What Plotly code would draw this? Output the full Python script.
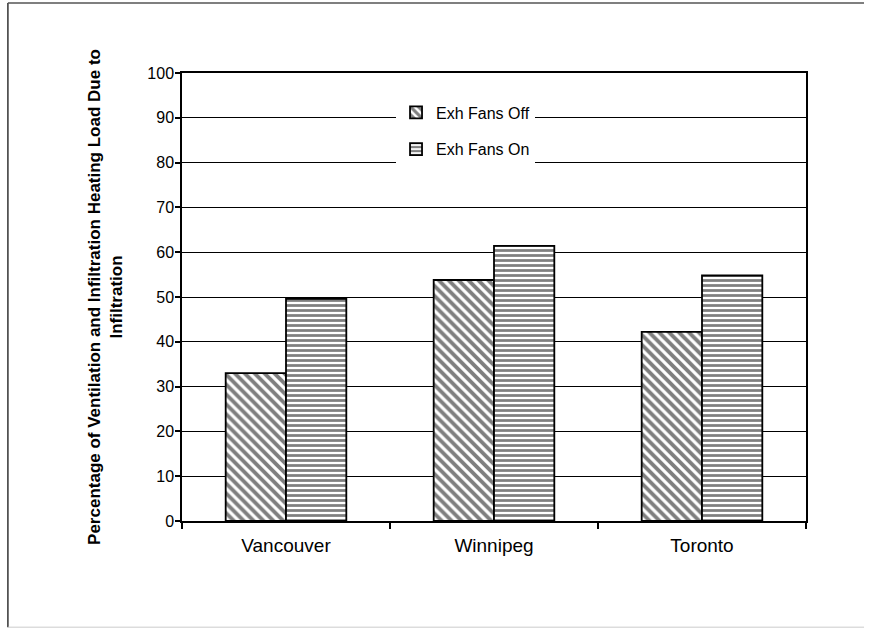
import plotly.graph_objects as go

# Share of ventilation + infiltration heating load that comes from infiltration
cities = ["Vancouver", "Winnipeg", "Toronto"]
fans_off = [33.0, 53.8, 42.2]
fans_on = [49.6, 61.4, 54.8]
y_ticks = [0, 10, 20, 30, 40, 50, 60, 70, 80, 90, 100]

FONT = "Liberation Sans, Arial, Helvetica, sans-serif"

fig = go.Figure()
fig.add_trace(go.Bar(
    name="Exh Fans Off", x=cities, y=fans_off, legendgroup="off",
    marker=dict(
        color="white",
        line=dict(color="black", width=1.8),
        pattern=dict(shape="\\", fgcolor="black", bgcolor="white",
                     size=7, solidity=0.55),
    ),
))
fig.add_trace(go.Bar(
    name="Exh Fans On", x=cities, y=fans_on, legendgroup="on",
    marker=dict(
        color="white",
        line=dict(color="black", width=1.8),
        pattern=dict(shape="-", fgcolor="black", bgcolor="white",
                     size=5, solidity=0.55),
    ),
))

fig.update_layout(
    width=872, height=629, autosize=False,
    margin=dict(l=182, r=66, t=73, b=108, pad=0),
    paper_bgcolor="white", plot_bgcolor="white",
    font=dict(family=FONT, size=16, color="black"),
    barmode="group", bargap=0.42, bargroupgap=0,
    showlegend=True,
    legend=dict(
        x=0.343, y=0.95, xanchor="left", yanchor="top",
        bgcolor="white", borderwidth=0,
        font=dict(family=FONT, size=16, color="black"),
        traceorder="grouped", tracegroupgap=13,
        itemwidth=30,
    ),
    xaxis=dict(
        showline=True, linecolor="black", linewidth=1.5, mirror=True,
        ticks="outside", tickson="boundaries", ticklen=6,
        tickcolor="black", tickwidth=1.5,
        tickfont=dict(family=FONT, size=19),
        ticklabelstandoff=6,
        showgrid=False,
    ),
    yaxis=dict(
        range=[0, 100], tickvals=y_ticks,
        showline=True, linecolor="black", linewidth=1.5, mirror=True,
        ticks="outside", ticklen=5, tickcolor="black", tickwidth=1.5,
        tickfont=dict(family=FONT, size=16),
        ticklabelstandoff=-2,
        showgrid=True, gridcolor="black", gridwidth=1.2,
        zeroline=False,
        title=dict(
            text="<b>Percentage of Ventilation and Infiltration Heating Load Due to<br>Infiltration</b>",
            font=dict(family=FONT, size=17),
            standoff=20,
        ),
    ),
)

# Outer frame around the chart
frame = dict(type="line", xref="paper", yref="paper", layer="above")
fig.add_shape(**frame, x0=-0.279, x1=-0.279, y0=1.156, y1=-0.237,
              line=dict(color="#333333", width=1.5))
fig.add_shape(**frame, x0=-0.279, x1=1.093, y0=1.156, y1=1.156,
              line=dict(color="#555555", width=1.5))
fig.add_shape(**frame, x0=-0.279, x1=1.093, y0=-0.237, y1=-0.237,
              line=dict(color="#cccccc", width=1))

fig.write_html("out.html")
